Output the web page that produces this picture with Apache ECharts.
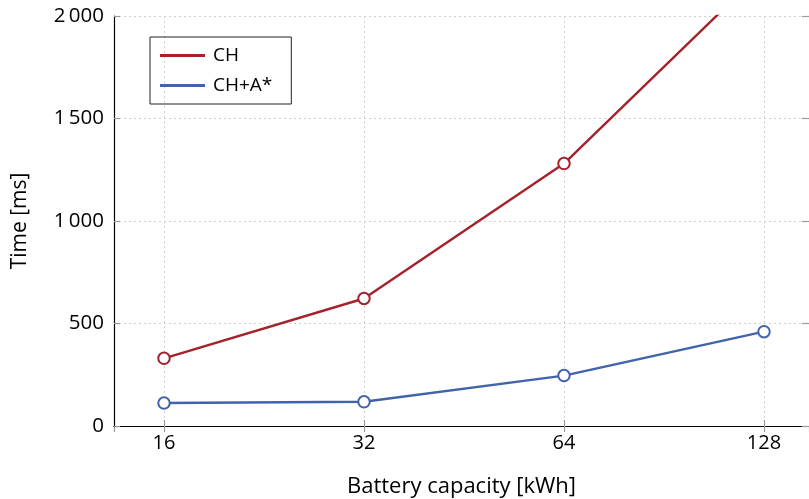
<!DOCTYPE html>
<html><head><meta charset="utf-8">
<script src="https://cdn.jsdelivr.net/npm/echarts@6/dist/echarts.min.js"></script>
<style>html,body{margin:0;padding:0;background:#fff}#c{width:809px;height:499px}</style>
</head><body><div id="c"></div>
<script>
const capacities = [16, 32, 64, 128];
const chTimes = [330, 622, 1280, 2225];
const chAstarTimes = [112, 118, 246, 460];
const seriesNames = ['CH', 'CH+A*'];
const yTicks = [0, 500, 1000, 1500, 2000];

const FONT = 'Open Sans';
const red = '#a4222a';
const blue = '#4163ab';
const gridColor = '#cfcfcf';
const tickColor = '#9a9a9a';
const fmtY = v => v >= 1000 ? String(v).replace(/(\d)(\d{3})$/, '$1\u2009$2') : String(v);

const chart = echarts.init(document.getElementById('c'), null, {renderer: 'canvas'});
const xMin = 16 * Math.pow(2, -0.25), xMax = 128 * Math.pow(2, 0.225);
const axisBase = {
  axisLine: {show: true, lineStyle: {color: '#000', width: 1.2}},
  axisTick: {show: true, inside: true, length: 6, lineStyle: {color: tickColor, width: 1.2}}
};
chart.setOption({
  animation: false,
  textStyle: {fontFamily: FONT},
  grid: {left: 114, right: 0, top: 16, bottom: 73, outerBoundsMode: 'none'},
  legend: {
    orient: 'vertical', left: 150, top: 37,
    data: seriesNames,
    icon: 'rect', itemWidth: 45, itemHeight: 3, itemGap: 11,
    padding: [9, 19, 9, 10],
    borderColor: '#222', borderWidth: 1, borderRadius: 0,
    textStyle: {fontFamily: FONT, fontSize: 19, color: '#000', padding: [0, 0, 0, 3]}
  },
  xAxis: [{
    type: 'log', logBase: 2, min: xMin, max: xMax, splitNumber: 4,
    name: 'Battery capacity [kWh]', nameLocation: 'middle', nameGap: 50,
    nameTextStyle: {fontFamily: FONT, fontSize: 22, color: '#000'},
    ...axisBase,
    axisLabel: {show: true, showMinLabel: false, showMaxLabel: false, margin: 7,
      fontFamily: FONT, fontSize: 20, color: '#000',
      formatter: v => String(Math.round(v))},
    splitLine: {show: true, lineStyle: {color: gridColor, type: [2, 3], width: 1}}
  }, {
    type: 'log', logBase: 2, min: xMin, max: xMax, splitNumber: 4, position: 'top',
    ...axisBase, axisLabel: {show: false}, splitLine: {show: false}
  }],
  yAxis: [{
    type: 'value', min: yTicks[0], max: yTicks[yTicks.length - 1], interval: 500,
    name: 'Time [ms]', nameLocation: 'middle', nameGap: 83, nameRotate: 90,
    nameTextStyle: {fontFamily: FONT, fontSize: 21, color: '#000'},
    ...axisBase,
    axisLabel: {margin: 10, fontFamily: FONT, fontSize: 20.5, color: '#000', formatter: fmtY},
    splitLine: {show: true, lineStyle: {color: gridColor, type: [2, 3], width: 1}}
  }, {
    type: 'value', min: yTicks[0], max: yTicks[yTicks.length - 1], interval: 500, position: 'right',
    axisLine: {show: false},
    axisTick: {show: true, inside: true, length: 7, lineStyle: {color: tickColor, width: 1.2}},
    axisLabel: {show: false}, splitLine: {show: false}
  }],
  series: [
    {name: seriesNames[0], type: 'line', data: capacities.map((c, i) => [c, chTimes[i]]),
     symbol: 'emptyCircle', symbolSize: 11.5, color: red,
     lineStyle: {width: 2.4, color: red}, itemStyle: {color: red, borderWidth: 2.6}, clip: true},
    {name: seriesNames[1], type: 'line', data: capacities.map((c, i) => [c, chAstarTimes[i]]),
     symbol: 'emptyCircle', symbolSize: 11.5, color: blue,
     lineStyle: {width: 2.4, color: blue}, itemStyle: {color: blue, borderWidth: 2.6}, clip: true}
  ]
});
</script></body></html>
